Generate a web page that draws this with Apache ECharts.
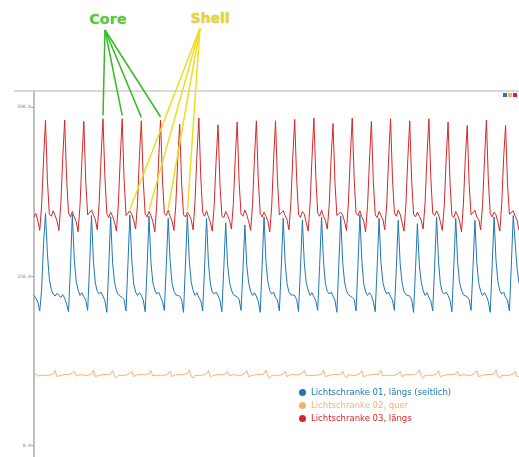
<!DOCTYPE html>
<html>
<head>
<meta charset="utf-8">
<script src="https://cdn.jsdelivr.net/npm/echarts@6/dist/echarts.min.js"></script>
<style>
  html, body { margin: 0; padding: 0; background: #fff; }
  #main { width: 519px; height: 457px; }
</style>
</head>
<body>
<div id="main"></div>
<script>
// series names + colours (legend order)
var seriesNames = ['Lichtschranke 01, längs (seitlich)', 'Lichtschranke 02, quer', 'Lichtschranke 03, längs'];
var seriesColors = ['#1f77b4', '#fdae6b', '#d62728'];
var yTicks = [0, 250, 500];

// samples, one line per pulse (10 samples each)
var blue = [
  222, 218, 212, 199, 232, 300,
  343, 284, 246, 231, 224, 221, 225, 222, 219, 223,
  218, 209, 198, 262, 342, 276, 243, 230, 222, 226,
  220, 215, 200, 266, 340, 272, 240, 228, 224, 227,
  221, 214, 197, 264, 338, 270, 242, 229, 223, 225,
  219, 216, 199, 268, 341, 275, 239, 227, 222, 226,
  222, 215, 198, 263, 339, 271, 241, 230, 224, 227,
  220, 213, 200, 265, 336, 273, 240, 228, 223, 225,
  221, 216, 197, 267, 341, 274, 242, 229, 222, 226,
  219, 214, 199, 264, 336, 270, 239, 227, 224, 227,
  222, 215, 198, 262, 329, 268, 241, 230, 223, 225,
  220, 216, 200, 260, 326, 266, 240, 228, 222, 226,
  221, 213, 197, 266, 338, 272, 242, 229, 224, 227,
  219, 215, 199, 265, 336, 271, 239, 227, 223, 225,
  222, 216, 198, 263, 333, 270, 241, 230, 222, 226,
  220, 214, 200, 266, 338, 273, 240, 228, 224, 227,
  221, 215, 197, 267, 339, 272, 242, 229, 223, 225,
  219, 216, 199, 268, 341, 274, 239, 227, 222, 226,
  222, 213, 198, 264, 336, 270, 241, 230, 224, 227,
  220, 215, 200, 262, 333, 269, 240, 228, 223, 225,
  221, 216, 197, 260, 328, 267, 242, 229, 222, 226,
  219, 214, 199, 266, 338, 273, 239, 227, 224, 227,
  222, 215, 198, 265, 336, 271, 241, 230, 223, 225,
  220, 216, 200, 263, 333, 270, 240, 228, 222, 226,
  221, 213, 197, 266, 338, 274, 242, 229, 224, 227,
  219, 215, 199, 267, 340, 300, 262, 240
];
var orange = [
  108, 110, 103, 101, 104, 105,
  104, 105, 104, 105, 106, 111, 102, 101, 104, 105,
  105, 104, 105, 104, 107, 110, 103, 102, 105, 104,
  104, 105, 104, 105, 106, 112, 102, 101, 104, 105,
  105, 104, 105, 104, 106, 111, 103, 100, 104, 105,
  104, 105, 104, 103, 107, 110, 102, 102, 105, 104,
  105, 104, 105, 104, 106, 111, 103, 101, 104, 105,
  104, 105, 104, 105, 106, 110, 102, 101, 105, 104,
  105, 104, 105, 104, 107, 112, 103, 100, 104, 105,
  104, 105, 104, 103, 106, 111, 102, 102, 104, 105,
  105, 104, 105, 104, 106, 110, 103, 101, 105, 104,
  104, 105, 104, 105, 107, 111, 102, 101, 104, 105,
  105, 104, 105, 104, 106, 112, 103, 100, 104, 105,
  104, 105, 104, 103, 106, 110, 102, 102, 105, 104,
  105, 104, 105, 104, 107, 111, 103, 101, 104, 105,
  104, 105, 104, 105, 106, 112, 102, 101, 104, 105,
  105, 104, 105, 104, 106, 110, 103, 100, 105, 104,
  104, 105, 104, 103, 107, 111, 102, 102, 104, 105,
  105, 104, 105, 104, 106, 111, 103, 101, 104, 105,
  104, 105, 104, 105, 106, 110, 102, 101, 105, 104,
  105, 104, 105, 104, 107, 112, 103, 100, 104, 105,
  104, 105, 104, 103, 106, 111, 102, 102, 104, 105,
  105, 104, 105, 104, 106, 110, 103, 101, 105, 104,
  104, 105, 104, 105, 107, 111, 102, 101, 104, 105,
  105, 104, 105, 104, 106, 112, 103, 100, 104, 105,
  104, 105, 104, 103, 106, 110, 102, 102
];
var red = [
  338, 343, 332, 318, 356, 424,
  481, 392, 342, 339, 347, 340, 332, 318, 357, 426,
  481, 395, 344, 338, 346, 338, 331, 316, 355, 423,
  479, 390, 341, 340, 348, 341, 334, 319, 359, 428,
  483, 396, 343, 337, 345, 339, 330, 317, 356, 425,
  483, 393, 340, 339, 347, 342, 333, 320, 358, 427,
  480, 391, 342, 338, 346, 340, 331, 316, 354, 422,
  481, 394, 343, 340, 348, 339, 332, 318, 357, 424,
  475, 388, 341, 338, 345, 341, 334, 319, 360, 429,
  484, 397, 344, 339, 347, 338, 330, 317, 355, 421,
  474, 387, 340, 337, 346, 340, 333, 320, 358, 426,
  478, 390, 342, 339, 348, 341, 331, 318, 356, 425,
  480, 393, 343, 338, 345, 339, 332, 316, 354, 423,
  480, 392, 341, 340, 347, 340, 334, 319, 359, 427,
  482, 395, 342, 337, 346, 342, 330, 317, 357, 424,
  484, 398, 344, 339, 348, 339, 333, 320, 356, 426,
  476, 389, 340, 338, 345, 341, 331, 318, 358, 428,
  484, 396, 343, 340, 347, 338, 332, 316, 355, 422,
  479, 391, 341, 337, 346, 340, 334, 319, 357, 425,
  483, 395, 344, 339, 348, 342, 330, 317, 356, 424,
  480, 392, 342, 338, 345, 339, 333, 320, 359, 427,
  483, 396, 343, 340, 347, 341, 331, 318, 354, 423,
  478, 390, 340, 337, 346, 340, 332, 316, 357, 425,
  473, 386, 341, 339, 348, 338, 334, 319, 356, 422,
  481, 393, 343, 338, 345, 341, 330, 317, 358, 426,
  473, 387, 342, 340, 347, 339, 333, 318
];

// sample indexes the annotations point at (red main peaks / red side bumps)
var corePeaks = [36, 46, 56, 66];
var shellBumps = [50, 60, 70, 80];

var chart = echarts.init(document.getElementById('main'));

function pairs(arr) {
  return arr.map(function (v, i) { return [i, v]; });
}

var allData = [blue, orange, red];

chart.setOption({
  animation: false,
  grid: { left: 34, right: 0, top: 91, bottom: 0 },
  xAxis: { type: 'value', min: 0, max: red.length - 1, show: false },
  yAxis: {
    type: 'value',
    min: -16.7,
    max: 524,
    splitLine: { show: false },
    axisLine: { show: true, lineStyle: { color: '#aaa', width: 1.5 } },
    axisTick: { show: true, length: 3, customValues: yTicks, lineStyle: { color: '#aaa' } },
    axisLabel: {
      customValues: yTicks,
      margin: 3,
      fontSize: 4.5,
      color: '#888',
      fontFamily: 'DejaVu Sans Mono',
      formatter: function (v) { return v.toFixed(1); }
    }
  },
  legend: [
    {
      orient: 'vertical',
      left: 299,
      top: 388,
      padding: 0,
      icon: 'circle',
      itemWidth: 7,
      itemHeight: 7,
      itemGap: 4,
      textStyle: { fontSize: 8.5, fontFamily: 'DejaVu Sans' },
      data: seriesNames.map(function (n, i) {
        return { name: n, textStyle: { color: seriesColors[i] } };
      })
    },
    {
      right: 2,
      top: 93,
      padding: 0,
      icon: 'rect',
      itemWidth: 4,
      itemHeight: 4,
      itemGap: 1,
      formatter: function () { return ''; },
      data: seriesNames
    }
  ],
  series: seriesNames.map(function (n, i) {
    return {
      name: n,
      type: 'line',
      data: pairs(allData[i]),
      showSymbol: false,
      color: seriesColors[i],
      lineStyle: { width: 1 }
    };
  })
});

// annotations: lines from the labels to the marked peaks
var graphics = [
  { type: 'line', z: 1, shape: { x1: 14, y1: 91, x2: 519, y2: 91 }, style: { stroke: '#ccc', lineWidth: 1.5 } },
  { type: 'text', z: 100, style: { text: 'Core', x: 108, y: 20, textAlign: 'center', textVerticalAlign: 'middle',
      font: 'bold 14.5px "DejaVu Sans"', fill: '#55cc33', textShadowColor: 'rgba(0,0,0,0.25)', textShadowBlur: 2 } },
  { type: 'text', z: 100, style: { text: 'Shell', x: 210, y: 19, textAlign: 'center', textVerticalAlign: 'middle',
      font: 'bold 14px "DejaVu Sans"', fill: '#e6d62c', textShadowColor: 'rgba(0,0,0,0.25)', textShadowBlur: 2 } }
];
corePeaks.forEach(function (i) {
  var p = chart.convertToPixel({ gridIndex: 0 }, [i, red[i] + 5]);
  graphics.push({ type: 'line', z: 100, shape: { x1: 105, y1: 30, x2: p[0], y2: p[1] },
    style: { stroke: '#33bb22', lineWidth: 1.5 } });
});
shellBumps.forEach(function (i) {
  var p = chart.convertToPixel({ gridIndex: 0 }, [i, red[i] + 2]);
  graphics.push({ type: 'line', z: 100, shape: { x1: 200, y1: 28, x2: p[0], y2: p[1] },
    style: { stroke: '#eedd22', lineWidth: 1.5 } });
});
chart.setOption({ graphic: graphics });
</script>
</body>
</html>
